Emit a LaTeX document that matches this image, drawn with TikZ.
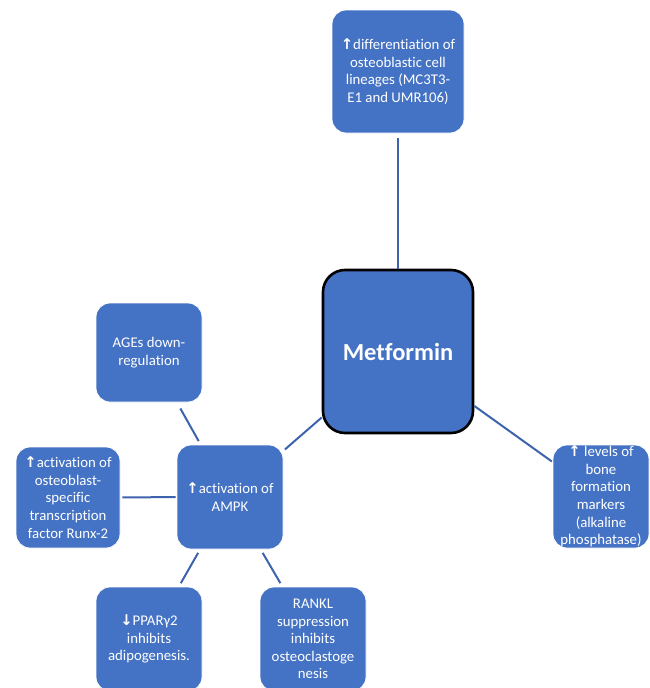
\documentclass[tikz,border=0pt]{standalone}
\usepackage{fontspec}
\setmainfont[Ligatures=NoCommon]{Carlito}
\newfontfamily\symfont{DejaVu Sans}
\definecolor{boxblue}{HTML}{4472C4}
\definecolor{linkblue}{HTML}{3D63AC}
\newcommand{\upar}{{\symfont\bfseries ↑}}
\newcommand{\dnar}{{\symfont\bfseries ↓}}
\begin{document}
\begin{tikzpicture}[x=1pt,y=-1pt,
  card/.style={rectangle, rounded corners=14pt, fill=boxblue, draw=white, line width=0.8pt,
    text=white, align=center, font=\fontsize{14.8}{17.6}\selectfont, inner sep=0pt},
  hub/.style={rectangle, rounded corners=22pt, fill=boxblue, draw=black, line width=2.6pt,
    text=white, align=center, font=\fontsize{24.5}{28}\selectfont\bfseries, inner sep=0pt},
  link/.style={draw=linkblue, line width=2pt}]
\useasboundingbox (0,0) rectangle (650,688);

% central drug node
\node[hub, minimum width=150pt, minimum height=163pt] (met) at (398,351.5) {Metformin};

% effects linked directly to metformin
\node[card, minimum width=132pt, minimum height=123pt] (diff) at (398,71.5)
  {\upar differentiation of\\osteoblastic cell\\lineages (MC3T3-\\E1 and UMR106)};
\node[card, minimum width=96pt, minimum height=103pt] (bone) at (601,496.5)
  {\upar\ levels of\\bone\\formation\\markers\\(alkaline\\phosphatase)};
\node[card, minimum width=106pt, minimum height=104pt] (ampk) at (230,497)
  {\upar activation of\\AMPK};

% downstream of AMPK
\node[card, minimum width=106pt, minimum height=99pt] (ages) at (149,352.5)
  {AGEs down-\\regulation};
\node[card, minimum width=104pt, minimum height=101pt] (runx) at (68,497.5)
  {\upar activation of\\osteoblast-\\specific\\transcription\\factor Runx-2};
\node[card, minimum width=106pt, minimum height=104pt] (ppar) at (149,639)
  {\dnar PPARγ2\\inhibits\\adipogenesis.};
\node[card, minimum width=106pt, minimum height=104pt] (rankl) at (313,639)
  {RANKL\\suppression\\inhibits\\osteoclastoge\\nesis};

% connectors
\draw[link, shorten <=5pt] (diff) -- (met);
\draw[link, shorten >=1pt] (met) -- (bone);
\draw[link, shorten >=2pt] (met) -- (ampk);
\draw[link, shorten <=4pt, shorten >=7pt] (ampk) -- (ages);
\draw[link, shorten <=1pt, shorten >=2pt] (ampk) -- (runx);
\draw[link, shorten <=4pt, shorten >=4pt] (ampk) -- (ppar);
\draw[link, shorten <=4pt, shorten >=4pt] (ampk) -- (rankl);
\end{tikzpicture}
\end{document}
